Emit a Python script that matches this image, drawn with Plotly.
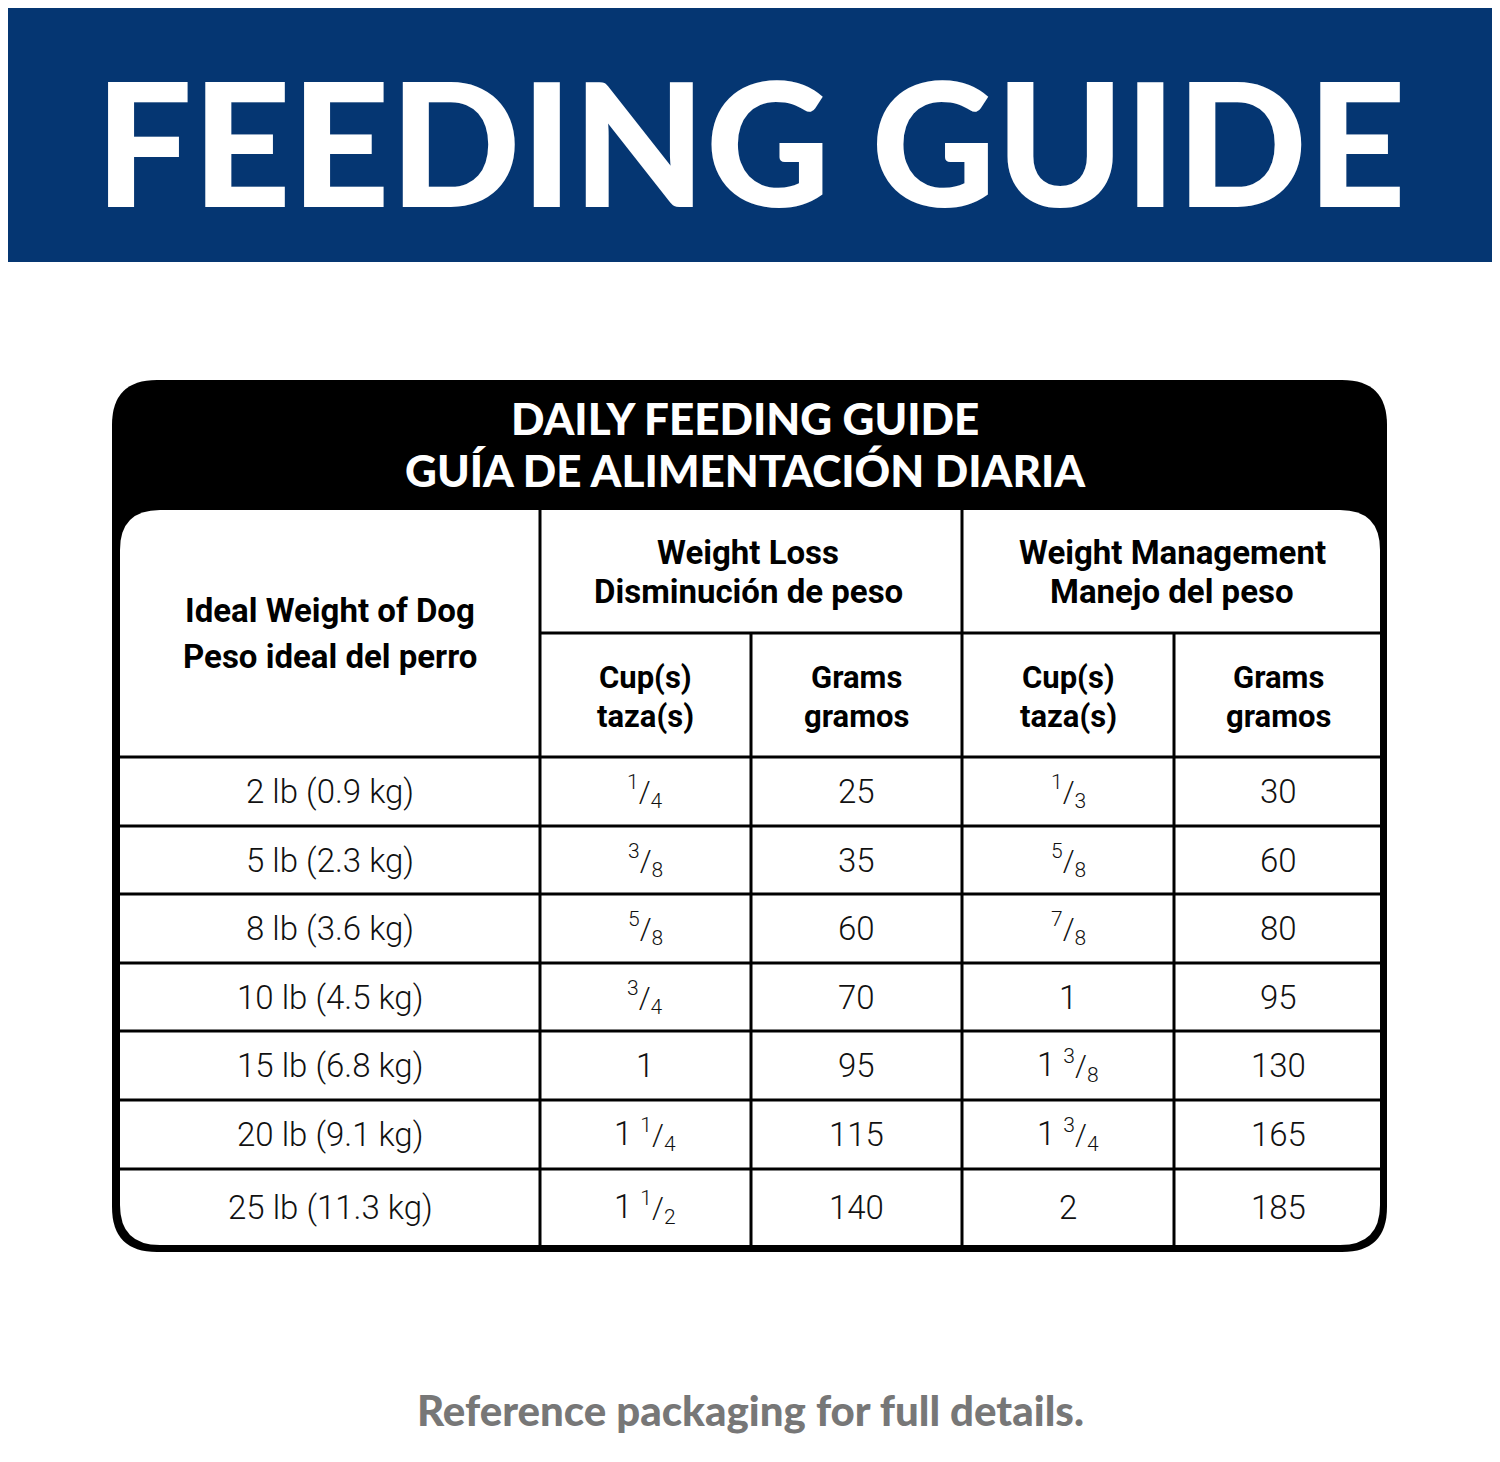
import plotly.graph_objects as go

weights = ["2 lb (0.9 kg)", "5 lb (2.3 kg)", "8 lb (3.6 kg)", "10 lb (4.5 kg)",
           "15 lb (6.8 kg)", "20 lb (9.1 kg)", "25 lb (11.3 kg)"]
loss_cups = ["1/4", "3/8", "5/8", "3/4", "1", "1 1/4", "1 1/2"]
loss_grams = [25, 35, 60, 70, 95, 115, 140]
mgmt_cups = ["1/3", "5/8", "7/8", "1", "1 3/8", "1 3/4", "2"]
mgmt_grams = [30, 60, 80, 95, 130, 165, 185]

W, H = 1500, 1462
OFF = 8
BLUE = "#053672"
fig = go.Figure()
shapes, ann = [], []

def rrect(x0, y0, x1, y1, r, color):
    p = (f"M {x0+r},{y0} L {x1-r},{y0} Q {x1},{y0} {x1},{y0+r} L {x1},{y1-r} "
         f"Q {x1},{y1} {x1-r},{y1} L {x0+r},{y1} Q {x0},{y1} {x0},{y1-r} "
         f"L {x0},{y0+r} Q {x0},{y0} {x0+r},{y0} Z")
    return dict(type="path", path=p, fillcolor=color, line=dict(width=0), layer="below")

def txt(x, y, s, size, color="black", family="Roboto", weight="normal"):
    ann.append(dict(x=x, y=y, text=s, showarrow=False, xanchor="center", yanchor="middle",
                    font=dict(size=size, color=color, family=family, weight=weight)))

def frac(s):
    out = []
    for p in s.split(" "):
        if "/" in p:
            a, b = p.split("/")
            out.append(f"<span style='font-size:30px'><sup>{a}</sup>/<sub>{b}</sub></span>")
        else:
            out.append(p)
    return " ".join(out)

shapes.append(dict(type="rect", x0=-50, x1=W + 50, y0=-50, y1=262, fillcolor=BLUE, line=dict(width=0), layer="below"))
txt(750, 140, "FEEDING GUIDE", 172, "white", "Lato", 900)

shapes.append(rrect(112, 380, 1387, 1252, 45, "black"))
shapes.append(rrect(120, 510, 1380, 1245, 40, "white"))
txt(745, 418, "DAILY FEEDING GUIDE", 44, "white", "Lato", 900)
txt(745, 470, "GUÍA DE ALIMENTACIÓN DIARIA", 44, "white", "Lato", 900)

LW = 3
for x in [540, 751, 962, 1174]:
    y0 = 510 if x in (540, 962) else 633
    shapes.append(dict(type="line", x0=x, x1=x, y0=y0, y1=1245, line=dict(color="black", width=LW)))
shapes.append(dict(type="line", x0=540, x1=1380, y0=633, y1=633, line=dict(color="black", width=LW)))
rows_y = [757, 826, 894, 963, 1031, 1100, 1169]
for y in rows_y:
    shapes.append(dict(type="line", x0=120, x1=1380, y0=y, y1=y, line=dict(color="black", width=LW)))

HF = "Roboto"
hs = 33
txt(330, 610, "Ideal Weight of Dog", hs, family=HF, weight="bold")
txt(330, 656, "Peso ideal del perro", hs, family=HF, weight="bold")
txt(748, 552, "Weight Loss", hs, family=HF, weight="bold")
txt(748, 591, "Disminución de peso", hs, family=HF, weight="bold")
txt(1172, 552, "Weight Management", hs, family=HF, weight="bold")
txt(1172, 591, "Manejo del peso", hs, family=HF, weight="bold")
for cx, a, b in [(645, "Cup(s)", "taza(s)"), (856, "Grams", "gramos"),
                 (1068, "Cup(s)", "taza(s)"), (1278, "Grams", "gramos")]:
    txt(cx, 677, a, 31, family=HF, weight="bold")
    txt(cx, 716, b, 31, family=HF, weight="bold")

cols = [(330, weights), (645, [frac(c) for c in loss_cups]), (856, [str(g) for g in loss_grams]),
        (1068, [frac(c) for c in mgmt_cups]), (1278, [str(g) for g in mgmt_grams])]
centers = [(rows_y[i] + (rows_y[i+1] if i+1 < len(rows_y) else 1245)) / 2 for i in range(len(rows_y))]
for cx, vals in cols:
    for cy, v in zip(centers, vals):
        txt(cx, cy, v, 33, "#111", "Roboto", 300)

txt(750, 1410, "Reference packaging for full details.", 42, "#777777", "Lato", 900)

fig.update_layout(width=W, height=H, margin=dict(l=0, r=0, t=0, b=0),
                  paper_bgcolor="white", plot_bgcolor="white", shapes=shapes, annotations=ann,
                  xaxis=dict(range=[OFF, W + OFF], visible=False, fixedrange=True),
                  yaxis=dict(range=[H + OFF, OFF], visible=False, fixedrange=True), showlegend=False)
fig.write_html("out.html")
